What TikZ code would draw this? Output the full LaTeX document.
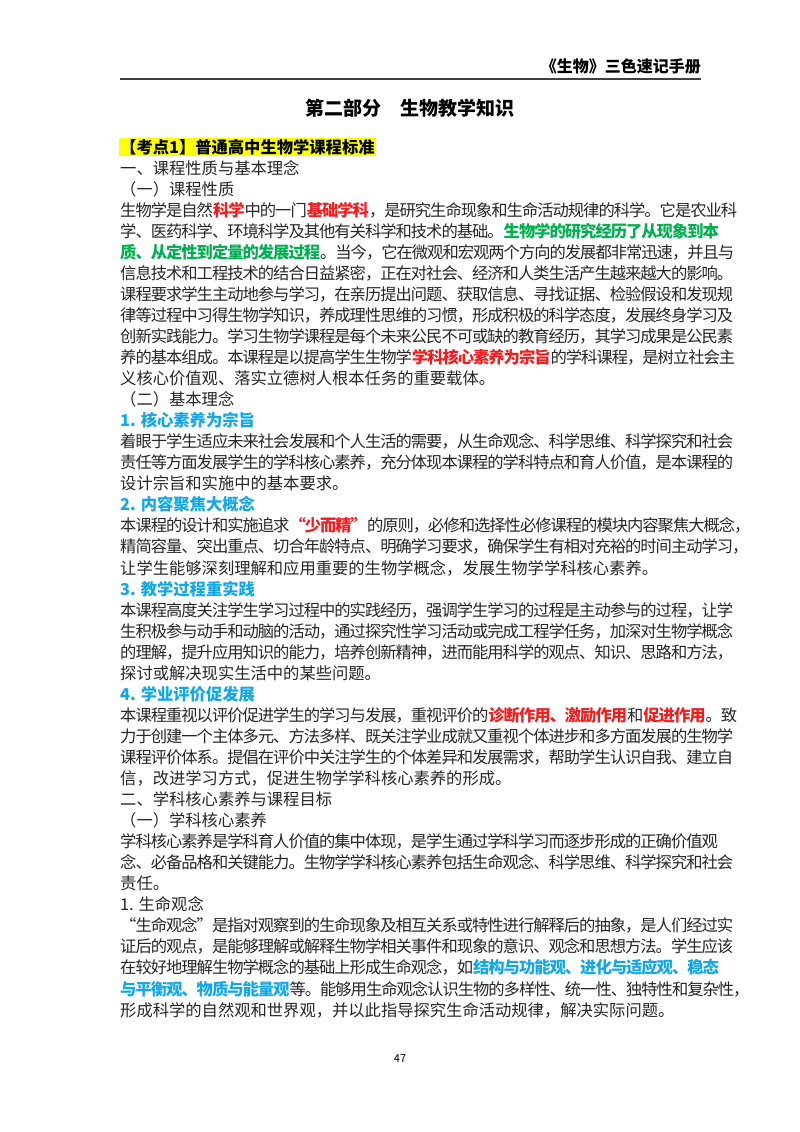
\documentclass[tikz,border=0pt]{standalone}
\usepackage{fontspec}
\setmainfont{Noto Sans CJK SC}
\newcount\cjkc
\newcommand\setcls[2]{\cjkc=#1\relax\loop\XeTeXcharclass\cjkc=1\relax\advance\cjkc by 1\relax\ifnum\cjkc<#2\repeat}
\setcls{"4E00}{"A000}
\setcls{"3000}{"3040}
\setcls{"FF00}{"FFF0}
\XeTeXcharclass"201C=1 \XeTeXcharclass"201D=1
\XeTeXinterchartoks 1 1 = {\hskip0pt plus 3pt minus 1pt}
\XeTeXinterchartoks 0 1 = {\hskip0pt plus 3pt minus 1pt}
\XeTeXinterchartoks 1 0 = {\hskip0pt plus 3pt minus 1pt}
\XeTeXinterchartokenstate=1
\definecolor{rd}{HTML}{F01E1E}
\definecolor{gn}{HTML}{00B050}
\definecolor{bl}{HTML}{12A8E8}
\definecolor{tx}{HTML}{262626}
\definecolor{hl}{HTML}{FFFF00}
\newcommand\Rr[1]{{\bfseries\color{rd}#1}}
\newcommand\Gg[1]{{\bfseries\color{gn}#1}}
\newcommand\Bb[1]{{\bfseries\color{bl}#1}}
\newcommand\PL[3]{\node[txt] (#1) at (120,{153+21.05*#2}) {#3};}
\newcommand\JL[3]{\node[txt] (#1) at (120,{153+21.05*#2}) {\hbox to 580pt{#3}};}
\begin{document}
\begin{tikzpicture}[x=1pt,y=-1pt,
  txt/.style={anchor=base west,inner sep=0pt,text=tx,font=\fontsize{16.3}{18}\selectfont}]
\useasboundingbox[fill=white] (0,0) rectangle (800,1132);
\node[anchor=base east,inner sep=0pt,font=\fontsize{16}{18}\selectfont\bfseries] (hdr) at (701,72) {《生物》三色速记手册};
\draw[line width=1.2pt,black!75] (120,79) coordinate (r1) -- (701,79) coordinate (r2);
\node[anchor=base,inner sep=0pt,font=\fontsize{19}{22}\selectfont\bfseries] (title) at (410,115) {第二部分\hspace{1em}生物教学知识};
\node[anchor=base west,inner sep=1pt,fill=hl,font=\fontsize{16.3}{18}\selectfont\bfseries] (kd) at (119,153) {【考点1】普通高中生物学课程标准};
\PL{l1}{1}{一、课程性质与基本理念}
\PL{l2}{2}{（一）课程性质}
\JL{l3}{3}{生物学是自然\Rr{科学}中的一门\Rr{基础学科}，是研究生命现象和生命活动规律的科学。它是农业科}
\JL{l4}{4}{学、医药科学、环境科学及其他有关科学和技术的基础。\Gg{生物学的研究经历了从现象到本}}
\JL{l5}{5}{\Gg{质、从定性到定量的发展过程}。当今，它在微观和宏观两个方向的发展都非常迅速，并且与}
\JL{l6}{6}{信息技术和工程技术的结合日益紧密，正在对社会、经济和人类生活产生越来越大的影响。}
\JL{l7}{7}{课程要求学生主动地参与学习，在亲历提出问题、获取信息、寻找证据、检验假设和发现规}
\JL{l8}{8}{律等过程中习得生物学知识，养成理性思维的习惯，形成积极的科学态度，发展终身学习及}
\JL{l9}{9}{创新实践能力。学习生物学课程是每个未来公民不可或缺的教育经历，其学习成果是公民素}
\JL{l10}{10}{养的基本组成。本课程是以提高学生生物学\Rr{学科核心素养为宗旨}的学科课程，是树立社会主}
\PL{l11}{11}{义核心价值观、落实立德树人根本任务的重要载体。}
\PL{l12}{12}{（二）基本理念}
\PL{l13}{13}{\Bb{1. 核心素养为宗旨}}
\JL{l14}{14}{着眼于学生适应未来社会发展和个人生活的需要，从生命观念、科学思维、科学探究和社会}
\JL{l15}{15}{责任等方面发展学生的学科核心素养，充分体现本课程的学科特点和育人价值，是本课程的}
\PL{l16}{16}{设计宗旨和实施中的基本要求。}
\PL{l17}{17}{\Bb{2. 内容聚焦大概念}}
\JL{l18}{18}{本课程的设计和实施追求\Rr{“少而精”}的原则，必修和选择性必修课程的模块内容聚焦大概念，}
\JL{l19}{19}{精简容量、突出重点、切合年龄特点、明确学习要求，确保学生有相对充裕的时间主动学习，}
\PL{l20}{20}{让学生能够深刻理解和应用重要的生物学概念，发展生物学学科核心素养。}
\PL{l21}{21}{\Bb{3. 教学过程重实践}}
\JL{l22}{22}{本课程高度关注学生学习过程中的实践经历，强调学生学习的过程是主动参与的过程，让学}
\JL{l23}{23}{生积极参与动手和动脑的活动，通过探究性学习活动或完成工程学任务，加深对生物学概念}
\JL{l24}{24}{的理解，提升应用知识的能力，培养创新精神，进而能用科学的观点、知识、思路和方法，}
\PL{l25}{25}{探讨或解决现实生活中的某些问题。}
\PL{l26}{26}{\Bb{4. 学业评价促发展}}
\JL{l27}{27}{本课程重视以评价促进学生的学习与发展，重视评价的\Rr{诊断作用、激励作用}和\Rr{促进作用}。致}
\JL{l28}{28}{力于创建一个主体多元、方法多样、既关注学业成就又重视个体进步和多方面发展的生物学}
\JL{l29}{29}{课程评价体系。提倡在评价中关注学生的个体差异和发展需求，帮助学生认识自我、建立自}
\PL{l30}{30}{信，改进学习方式，促进生物学学科核心素养的形成。}
\PL{l31}{31}{二、学科核心素养与课程目标}
\PL{l32}{32}{（一）学科核心素养}
\JL{l33}{33}{学科核心素养是学科育人价值的集中体现，是学生通过学科学习而逐步形成的正确价值观}
\JL{l34}{34}{念、必备品格和关键能力。生物学学科核心素养包括生命观念、科学思维、科学探究和社会}
\PL{l35}{35}{责任。}
\PL{l36}{36}{1. 生命观念}
\JL{l37}{37}{“生命观念”是指对观察到的生命现象及相互关系或特性进行解释后的抽象，是人们经过实}
\JL{l38}{38}{证后的观点，是能够理解或解释生物学相关事件和现象的意识、观念和思想方法。学生应该}
\JL{l39}{39}{在较好地理解生物学概念的基础上形成生命观念，如\Bb{结构与功能观、进化与适应观、稳态}}
\JL{l40}{40}{\Bb{与平衡观、物质与能量观}等。能够用生命观念认识生物的多样性、统一性、独特性和复杂性，}
\PL{l41}{41}{形成科学的自然观和世界观，并以此指导探究生命活动规律，解决实际问题。}
\node[anchor=base,inner sep=0pt,font=\fontsize{11}{13}\selectfont] (pg) at (400,1062) {47};
\end{tikzpicture}
\end{document}
